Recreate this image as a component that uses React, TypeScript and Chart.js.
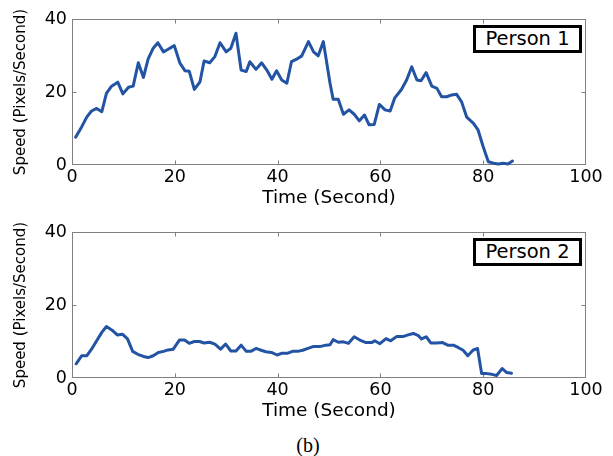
import React, { useEffect, useRef } from 'react';
import { Chart, registerables } from 'chart.js';

Chart.register(...registerables);

// ---- data ----
const time1 = [0.7,1.9,2.9,3.8,4.8,5.8,6.7,7.7,8.9,9.9,11.0,11.9,12.9,13.9,14.8,15.8,16.7,17.8,18.7,19.9,21.0,22.0,22.8,23.8,24.9,25.7,26.8,27.8,28.8,30.0,30.9,31.9,32.9,33.9,34.6,35.8,36.9,37.9,38.9,39.8,40.8,41.8,42.7,43.7,44.7,46.0,47.0,47.9,48.9,50.2,50.8,51.8,52.8,53.9,54.9,55.9,56.9,57.8,58.8,59.8,60.9,61.9,62.8,64.1,65.1,66.1,67.1,67.9,68.9,70.0,71.0,71.9,72.9,73.9,74.8,75.8,76.8,78.1,79.0,80.0,81.0,82.0,82.9,83.9,84.8,85.7];
const speed1 = [7.6,10.5,13.2,14.8,15.5,14.6,19.6,21.6,22.7,19.5,21.3,21.6,28.0,24.0,29.0,32.0,33.5,31.0,31.7,32.7,27.9,25.8,25.7,20.7,22.8,28.5,28.0,29.7,33.5,31.0,32.0,36.1,26.0,25.6,28.3,26.2,28.0,26.0,23.5,25.8,23.3,22.4,28.3,29.0,29.9,33.8,31.0,29.9,33.8,22.4,18.0,18.0,13.9,15.1,13.9,12.1,13.7,11.0,11.1,16.6,15.1,14.8,18.4,20.7,23.3,26.9,23.3,23.1,25.3,21.6,21.0,18.7,18.7,19.2,19.4,17.3,13.1,11.4,9.6,5.0,0.9,0.5,0.3,0.5,0.3,1.1];

const time2 = [0.8,1.9,2.9,3.8,4.8,5.8,6.7,7.8,8.8,9.8,10.8,11.8,12.8,13.9,14.8,15.8,16.8,17.8,18.7,19.7,20.9,21.9,22.8,23.8,24.8,25.7,26.8,27.8,28.9,29.9,30.9,31.9,32.9,33.9,34.8,35.8,36.8,37.7,38.8,39.9,40.9,42.0,42.9,43.9,44.9,45.9,46.9,48.2,49.4,50.2,50.8,51.8,52.8,53.8,54.9,56.0,57.2,58.3,58.9,59.9,61.1,62.0,63.2,64.5,65.4,66.4,67.4,68.0,68.9,69.8,71.0,72.1,73.1,74.2,75.2,76.1,77.0,78.0,78.9,79.7,80.7,81.7,82.6,83.7,84.6,85.5];
const speed2 = [3.9,6.1,6.1,7.9,10.2,12.5,14.1,13.1,11.8,12.0,10.7,7.3,6.5,5.9,5.6,6.1,7.0,7.3,7.7,7.9,10.4,10.4,9.5,10.0,10.0,9.6,9.8,9.3,7.9,9.3,7.4,7.4,9.0,7.3,7.3,8.1,7.6,7.2,7.0,6.3,6.8,6.8,7.3,7.3,7.6,8.1,8.6,8.6,9.0,9.1,10.5,9.8,9.9,9.5,11.3,10.4,9.7,9.7,10.2,9.4,10.8,10.2,11.4,11.4,11.8,12.2,11.6,10.7,11.3,9.6,9.6,9.7,9.0,9.0,8.3,7.6,6.1,7.6,8.1,1.2,1.2,1.0,0.7,2.6,1.5,1.3];

const label1 = 'Person 1';
const label2 = 'Person 2';
const xTitle = 'Time (Second)';
const yTitle = 'Speed (Pixels/Second)';
const caption = '(b)';
const xMin = 0, xMax = 100, xStep = 20;
const yMin = 0, yMax = 40, yStep = 20;

const LINE_COLOR = '#2353a3';
const FONT = 'DejaVu Sans';

const framePlugin = {
  id: 'matlabFrame',
  beforeDatasetsDraw(chart: any) {
    const { ctx, chartArea: a, scales } = chart;
    ctx.save();
    ctx.strokeStyle = '#808080';
    ctx.lineWidth = 1;
    const l = Math.round(a.left) + 0.5;
    const r = Math.round(a.right) - 0.5;
    const t = Math.round(a.top) + 0.5;
    const b = Math.round(a.bottom) - 0.5;
    ctx.strokeRect(l, t, r - l, b - t);
    const tl = 4;
    ctx.beginPath();
    for (const tk of scales.x.ticks) {
      if (tk.value <= xMin || tk.value >= xMax) continue;
      const px = Math.round(scales.x.getPixelForValue(tk.value)) + 0.5;
      ctx.moveTo(px, b); ctx.lineTo(px, b - tl);
      ctx.moveTo(px, t); ctx.lineTo(px, t + tl);
    }
    for (const tk of scales.y.ticks) {
      if (tk.value <= yMin || tk.value >= yMax) continue;
      const py = Math.round(scales.y.getPixelForValue(tk.value)) + 0.5;
      ctx.moveTo(l, py); ctx.lineTo(l + tl, py);
      ctx.moveTo(r, py); ctx.lineTo(r - tl, py);
    }
    ctx.stroke();
    ctx.restore();
  },
};

const W = 613;
const H = 215;

function Panel({ times, speeds, label, top }: { times: number[]; speeds: number[]; label: string; top: number }) {
  const ref = useRef<HTMLCanvasElement>(null);
  useEffect(() => {
    if (!ref.current) return;
    const chart = new Chart(ref.current, {
      type: 'line',
      data: {
        datasets: [
          {
            label,
            data: times.map((t, i) => ({ x: t, y: speeds[i] })),
            borderColor: LINE_COLOR,
            backgroundColor: LINE_COLOR,
            borderWidth: 3,
            pointRadius: 0,
            tension: 0,
            clip: 4,
            borderJoinStyle: 'round',
            borderCapStyle: 'round',
          } as any,
        ],
      },
      options: {
        responsive: false,
        animation: false,
        devicePixelRatio: 1,
        layout: { padding: { left: 0, right: 27, top: 19, bottom: 5 } },
        plugins: { legend: { display: false }, tooltip: { enabled: false } },
        scales: {
          x: {
            type: 'linear',
            min: xMin,
            max: xMax,
            ticks: { stepSize: xStep, color: '#000', font: { family: FONT, size: 17.5 }, padding: 2, maxRotation: 0 },
            grid: { display: false, drawTicks: false },
            border: { display: false },
            title: { display: true, text: xTitle, color: '#000', font: { family: FONT, size: 18.5 }, padding: { top: 0, bottom: 1 } },
            afterFit: (s: any) => { s.height = 45; },
          },
          y: {
            type: 'linear',
            min: yMin,
            max: yMax,
            ticks: { stepSize: yStep, color: '#000', font: { family: FONT, size: 17.5 }, padding: 5 },
            grid: { display: false, drawTicks: false },
            border: { display: false },
            title: { display: true, text: yTitle, color: '#000', font: { family: FONT, size: 15 }, padding: { top: 12, bottom: 0 } },
            afterFit: (s: any) => { s.width = 72; },
          },
        },
      } as any,
      plugins: [framePlugin],
    });
    return () => chart.destroy();
  }, []);
  return (
    <div style={{ position: 'absolute', left: 0, top, width: W, height: H }}>
      <canvas ref={ref} width={W} height={H} style={{ width: W, height: H, display: 'block' }} />
      <div
        style={{
          position: 'absolute',
          left: 473,
          top: 25,
          width: 109,
          height: 28,
          boxSizing: 'border-box',
          border: '3px solid #000',
          background: '#fff',
          display: 'flex',
          alignItems: 'center',
          justifyContent: 'center',
          fontFamily: FONT,
          fontSize: 19.5,
          color: '#000',
          lineHeight: '22px',
        }}
      >
        {label}
      </div>
    </div>
  );
}

export default function App() {
  return (
    <div style={{ position: 'absolute', left: 0, top: 0, width: W, height: 456, background: '#fff', overflow: 'hidden' }}>
      <Panel times={time1} speeds={speed1} label={label1} top={0} />
      <Panel times={time2} speeds={speed2} label={label2} top={213} />
      <div
        style={{
          position: 'absolute',
          left: 308,
          top: 434,
          transform: 'translateX(-50%)',
          fontFamily: 'Liberation Serif',
          fontSize: 20,
          lineHeight: '22px',
          color: '#000',
          whiteSpace: 'nowrap',
        }}
      >
        {caption}
      </div>
    </div>
  );
}
